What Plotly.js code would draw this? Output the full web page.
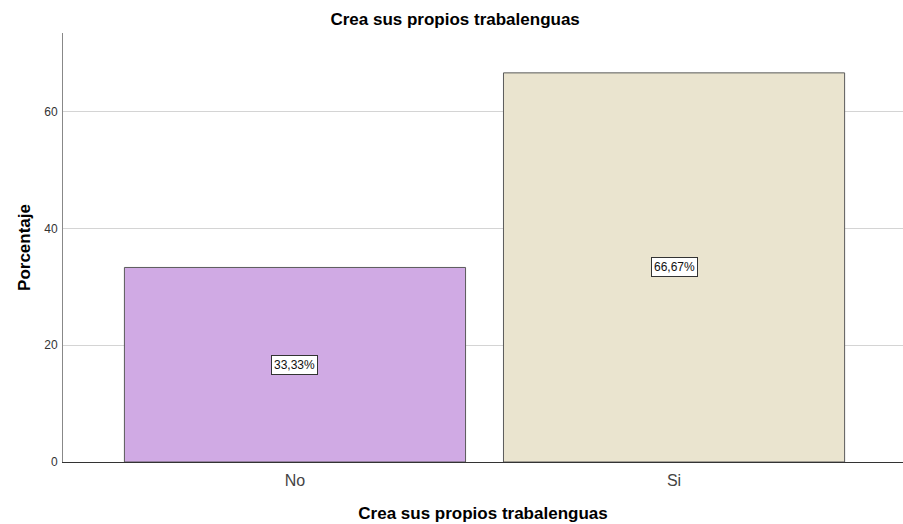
<!DOCTYPE html>
<html>
<head>
<meta charset="utf-8">
<script src="https://cdn.plot.ly/plotly-3.0.1.min.js"></script>
<style>html,body{margin:0;padding:0;background:#fff;}#chart{width:903px;height:524px;}</style>
</head>
<body>
<div id="chart"></div>
<script>
var categories = ["No", "Si"];
var percentages = [33.33, 66.67];
var valueLabels = ["33,33%", "66,67%"];
var barColors = ["#D0AAE4", "#EAE4CF"];
var yTicks = [0, 20, 40, 60];

var FONT = "Liberation Sans, Arial, sans-serif";

var trace = {
  type: "bar",
  x: categories,
  y: percentages,
  width: 0.9,
  marker: {color: barColors, line: {color: "#5a5a5a", width: 1}},
  hoverinfo: "none"
};

var annotations = categories.map(function(c, i) {
  return {
    x: c, y: percentages[i] / 2, xref: "x", yref: "y",
    text: valueLabels[i], showarrow: false,
    font: {family: FONT, size: 12, color: "#111"},
    bgcolor: "#ffffff", bordercolor: "#333333", borderwidth: 1, borderpad: 2
  };
});

var layout = {
  width: 903, height: 524,
  margin: {l: 63, r: 0, t: 33, b: 62},
  paper_bgcolor: "#fff", plot_bgcolor: "#fff",
  showlegend: false,
  title: {
    text: "<b>Crea sus propios trabalenguas</b>",
    font: {family: FONT, size: 17, color: "#000"},
    x: 0.504, xanchor: "center", xref: "container",
    y: 1 - 19/524, yref: "container", yanchor: "middle"
  },
  xaxis: {
    type: "category",
    range: [-0.612, 1.604],
    showgrid: false, zeroline: false,
    showline: true, linecolor: "#333333", linewidth: 1,
    ticks: "", ticklabelstandoff: 4,
    tickfont: {family: FONT, size: 16, color: "#444"},
    title: {text: "<b>Crea sus propios trabalenguas</b>", standoff: 18,
      font: {family: FONT, size: 17, color: "#000"}}
  },
  yaxis: {
    range: [0, 73.5],
    tickvals: yTicks,
    showgrid: true, gridcolor: "#d4d4d4", gridwidth: 1,
    zeroline: false,
    showline: true, linecolor: "#888888", linewidth: 1,
    ticks: "", ticklabelstandoff: 2,
    tickfont: {family: FONT, size: 12, color: "#333"},
    title: {text: "<b>Porcentaje</b>", standoff: 9,
      font: {family: FONT, size: 17, color: "#000"}}
  },
  annotations: annotations
};

Plotly.newPlot("chart", [trace], layout, {displayModeBar: false, staticPlot: true});
</script>
</body>
</html>
